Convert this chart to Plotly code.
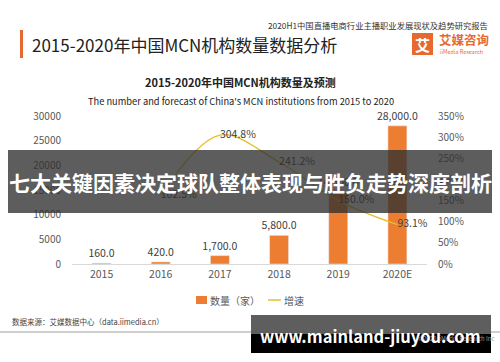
import plotly.graph_objects as go

years = ["2015", "2016", "2017", "2018", "2019", "2020E"]
counts = [160, 420, 1700, 5800, 14500, 28000]
growth_years = ["2016", "2017", "2018", "2019", "2020E"]
growth = [162.5, 304.8, 241.2, 150.0, 93.1]
left_ticks = [0, 5000, 10000, 15000, 20000, 25000, 30000]
right_ticks = [0, 50, 100, 150, 200, 250, 300, 350]

W, H = 500, 362
L, R, T, B = 72, 427, 116, 264
FONT = "Noto Sans CJK SC"
BAR_COLOR = "#ED7D31"
LINE_COLOR = "#E5C02C"


def px(x):
    return (x - L) / (R - L)


def py(y):
    return (B - y) / (B - T)


fig = go.Figure()
fig.add_trace(go.Bar(
    x=years, y=counts, name="数量（家）", marker_color=BAR_COLOR,
    width=0.32, text=[f"{v:,.1f}" for v in counts], textposition="outside",
    constraintext="none",
    textfont=dict(size=10.5, color="#404040", family=FONT), cliponaxis=False,
))
fig.add_trace(go.Scatter(
    x=growth_years, y=growth, name="增速", yaxis="y2", mode="lines+text",
    line=dict(color=LINE_COLOR, width=1.3, shape="spline", smoothing=1.0),
    text=[f"{v:.1f}%" for v in growth], textposition="middle right",
    textfont=dict(size=10.5, color="#404040", family=FONT), cliponaxis=False,
))

fig.update_layout(
    width=W, height=H, autosize=False,
    margin=dict(l=L, r=W - R, t=T, b=H - B),
    paper_bgcolor="white", plot_bgcolor="white",
    font=dict(family=FONT, color="#595959", size=10),
    showlegend=False,
    xaxis=dict(showgrid=False, showline=True, linecolor="#D9D9D9", linewidth=1,
               ticks="", tickfont=dict(size=10.5, color="#595959"), fixedrange=True),
    yaxis=dict(range=[0, 30000], tickmode="array", tickvals=left_ticks,
               ticktext=[str(v) for v in left_ticks], showgrid=False,
               zeroline=False, showline=False, tickfont=dict(size=10, color="#595959"),
               ticklabelstandoff=10),
    yaxis2=dict(range=[0, 350], tickmode="array", tickvals=right_ticks,
                ticktext=[f"{v}%" for v in right_ticks], overlaying="y",
                side="right", showgrid=False, zeroline=False, showline=False,
                tickfont=dict(size=10, color="#595959"), ticklabelstandoff=10),
)

shapes = []
ann = []

# header
shapes.append(dict(type="rect", xref="paper", yref="paper", x0=px(20), x1=px(23),
                   y0=py(58), y1=py(30), fillcolor="#E8692F", line_width=0))
ann.append(dict(text="2015-2020年中国MCN机构数量数据分析", x=px(30), y=py(44),
                xanchor="left", yanchor="middle", font=dict(size=17, color="#222222")))
ann.append(dict(text="2020H1中国直播电商行业主播职业发展现状及趋势研究报告", x=px(490), y=py(25),
                xanchor="right", yanchor="middle", font=dict(size=8.3, color="#333333")))
shapes.append(dict(type="rect", xref="paper", yref="paper", x0=px(412), x1=px(433),
                   y0=py(55), y1=py(33), fillcolor="#E8692F", line_width=0))
ann.append(dict(text="<b>艾</b>", x=px(422.5), y=py(44), xanchor="center", yanchor="middle",
                font=dict(size=15, color="white")))
ann.append(dict(text="<b>艾媒咨询</b>", x=px(437), y=py(40), xanchor="left", yanchor="middle",
                font=dict(size=12.5, color="#E8692F")))
ann.append(dict(text="iiMedia Research", x=px(438), y=py(51.5), xanchor="left", yanchor="middle",
                font=dict(size=5.5, color="#E8692F")))

# chart titles
ann.append(dict(text="<b>2015-2020年中国MCN机构数量及预测</b>", x=px(240), y=py(82),
                xanchor="center", yanchor="middle", font=dict(size=11, color="#222222")))
ann.append(dict(text="The number and forecast of China's MCN institutions from 2015 to 2020",
                x=px(241), y=py(101), xanchor="center", yanchor="middle",
                font=dict(size=9.3, color="#222222")))

# legend (manual, compact like the reference)
shapes.append(dict(type="rect", xref="paper", yref="paper", x0=px(196), x1=px(207),
                   y0=py(304), y1=py(296), fillcolor=BAR_COLOR, line_width=0))
ann.append(dict(text="数量（家）", x=px(208), y=py(300), xanchor="left", yanchor="middle",
                font=dict(size=10, color="#595959")))
shapes.append(dict(type="line", xref="paper", yref="paper", x0=px(268), x1=px(281),
                   y0=py(300), y1=py(300), line=dict(color=LINE_COLOR, width=1.5)))
ann.append(dict(text="增速", x=px(282), y=py(300), xanchor="left", yanchor="middle",
                font=dict(size=10, color="#595959")))

# source and footer
ann.append(dict(text="数据来源：艾媒数据中心（data.iimedia.cn）", x=px(10), y=py(321),
                xanchor="left", yanchor="middle", font=dict(size=7.5, color="#444444")))
shapes.append(dict(type="line", xref="paper", yref="paper", x0=px(0), x1=px(500),
                   y0=py(332), y1=py(332), line=dict(color="#BFBFBF", width=1.5)))
ann.append(dict(text="©2020 iiMedia Research Inc", x=px(497), y=py(338), xanchor="right",
                yanchor="middle", font=dict(size=6, color="#999999")))

# banner overlay
shapes.append(dict(type="rect", xref="paper", yref="paper", x0=px(8), x1=px(492),
                   y0=py(213), y1=py(150), fillcolor="rgba(48,48,48,0.78)",
                   line_width=0, layer="above"))
ann.append(dict(text="<b>七大关键因素决定球队整体表现与胜负走势深度剖析</b>", x=px(250), y=py(182),
                xanchor="center", yanchor="middle", font=dict(size=21, color="white")))

# watermark
shapes.append(dict(type="rect", xref="paper", yref="paper", x0=px(251), x1=px(491),
                   y0=py(353), y1=py(315), fillcolor="#000000", line_width=0, layer="above"))
shapes.append(dict(type="rect", xref="paper", yref="paper", x0=px(251), x1=px(491),
                   y0=py(334), y1=py(315), fillcolor="#5E5E5E", line_width=0, layer="above"))
ann.append(dict(text="<b>www.mainland-jiuyou.com</b>", x=px(370), y=py(336), xanchor="center",
                yanchor="middle", font=dict(size=16.5, color="white")))

for a in ann:
    a.update(xref="paper", yref="paper", showarrow=False)
fig.update_layout(shapes=shapes, annotations=ann)

fig.write_html("out.html", config={"displayModeBar": False},
               post_script="document.body.style.margin='0';document.body.style.padding='0';")
